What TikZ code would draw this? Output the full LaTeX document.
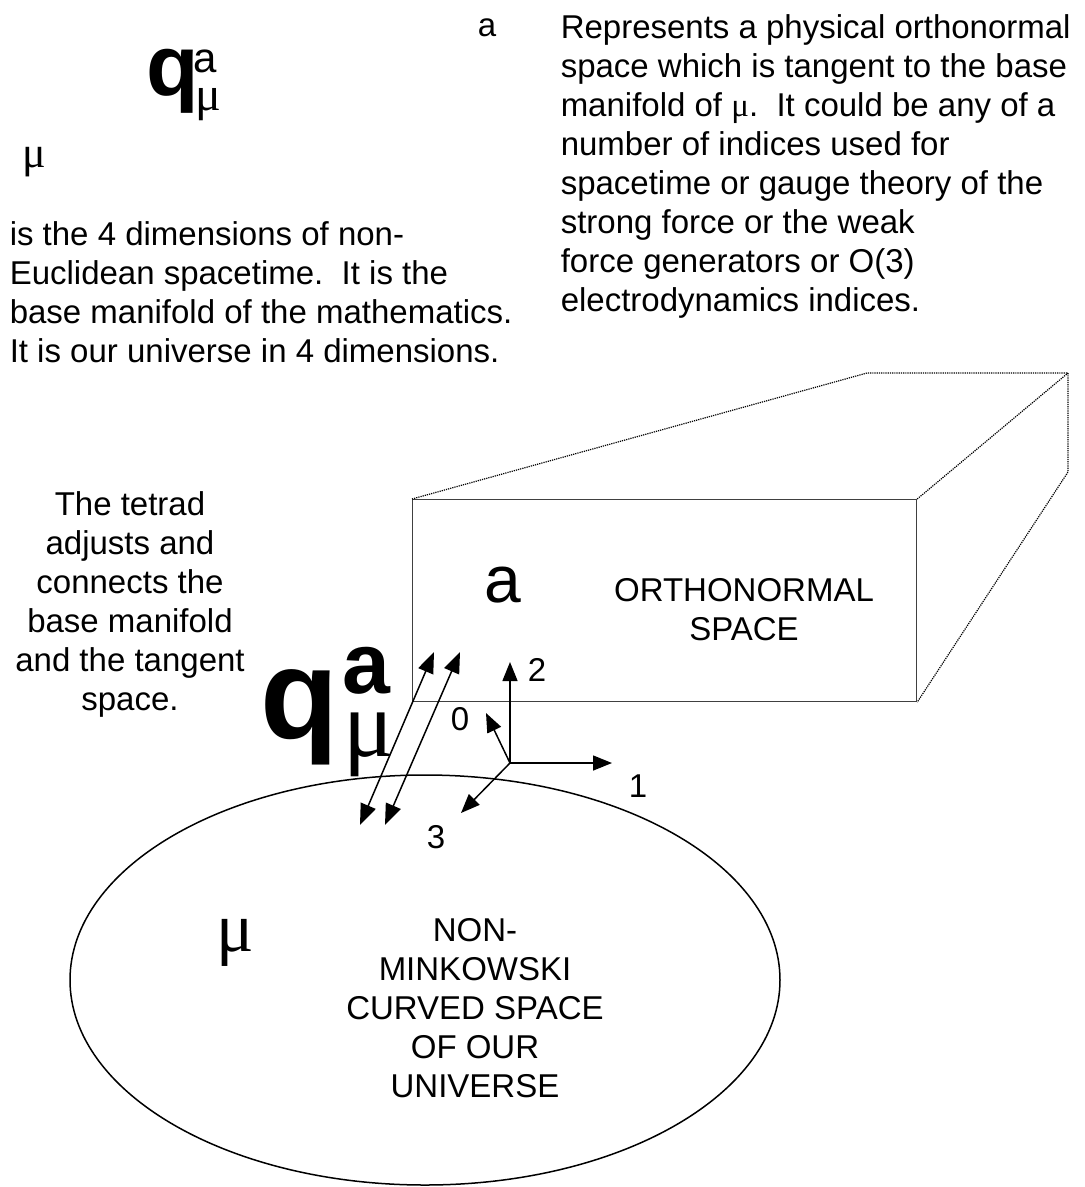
\documentclass[tikz,border=0pt]{standalone}
\usepackage{fontspec}
\setmainfont{Liberation Sans}
\newfontfamily\symbfont{Liberation Serif}
\usetikzlibrary{arrows.meta, shapes.geometric}
\tikzset{
  every picture/.style={line width=1.5pt},
  txt/.style={font=\fontsize{33}{39}\selectfont, inner sep=0pt},
  glyph/.style={inner sep=0pt, anchor=base west, font=\fontsize{#1}{#1}\selectfont},
  greek/.style={inner sep=0pt, anchor=base west, font=\symbfont\fontsize{#1}{#1}\selectfont},
  vec/.style={-{Triangle[length=19pt, width=15pt]}, line width=1.5pt},
  dvec/.style={{Triangle[length=21pt, width=16pt]}-{Triangle[length=21pt, width=16pt]}, line width=1.5pt},
  back/.style={densely dotted, line width=1.2pt},
}

\begin{document}
\begin{tikzpicture}[x=1pt, y=-1pt]
  \useasboundingbox (0,0) rectangle (1085,1187);

  % the symbol and what its indices mean
  \node[inner sep=0pt, anchor=base west] (qsmall) at (146,95)
    {{\fontsize{86}{86}\selectfont\bfseries q}\kern-5.5pt\rlap{\raisebox{23pt}{\fontsize{42}{42}\selectfont a}}\kern2pt\raisebox{-15pt}{\symbfont\fontsize{48}{48}\selectfont μ}};
  \node[greek=44] (mulabel) at (22,167) {μ};
  \node[glyph=33] (alabel) at (477,36) {a};
  \node[txt, align=left, anchor=north west] (mutext) at (9,221)
    {is the 4 dimensions of non-\\Euclidean spacetime.\ \ It is the\\base manifold of the mathematics.\\It is our universe in 4 dimensions.};
  \node[txt, align=left, anchor=north west] (atext) at (560,14)
    {Represents a physical orthonormal\\space which is tangent to the base\\manifold of {\symbfont μ}.\ \ It could be any of a\\number of indices used for\\spacetime or gauge theory of the\\strong force or the weak\\force generators or O(3)\\electrodynamics indices.};

  % tangent space
  \node[draw=black!75, line width=1.2pt, minimum width=504pt, minimum height=202pt, anchor=north west, inner sep=0pt] (front) at (412,499) {};
  \coordinate (backtl) at (867,373);
  \coordinate (backtr) at (1068,373);
  \coordinate (backbr) at (1068,472);
  \draw[back] (front.north west) -- (backtl) -- (backtr) -- (backbr) -- (front.south east);
  \draw[back] (front.north east) -- (backtr);
  \node[glyph=66] (aspace) at (484,602) {a};
  \node[txt, align=center, anchor=north] (ortho) at (744,578) {ORTHONORMAL\\SPACE};

  % base manifold
  \node[draw, ellipse, minimum width=710pt, minimum height=410pt, inner sep=0pt] (universe) at (425,980) {};
  \node[greek=70] (mubase) at (216,951) {μ};
  \node[txt, align=center, anchor=north] (curved) at (475,918) {NON-\\MINKOWSKI\\CURVED SPACE\\OF OUR\\UNIVERSE};

  % the tetrad
  \node[txt, align=center, anchor=north] (tetrad) at (130,491) {The tetrad\\adjusts and\\connects the\\base manifold\\and the tangent\\space.};
  \node[inner sep=0pt, anchor=base west] (qbig) at (260,738)
    {{\fontsize{128}{128}\selectfont\bfseries q}\kern3.8pt\rlap{\raisebox{45pt}{\fontsize{86}{86}\selectfont\bfseries a}}\kern1pt\raisebox{-18pt}{\symbfont\fontsize{95}{95}\selectfont μ}};
  \coordinate (lowa) at (360,825);
  \coordinate (upa) at (434,652);
  \coordinate (lowb) at (385,825);
  \coordinate (upb) at (460,652);
  \draw[dvec] (lowa) -- (upa);
  \draw[dvec] (lowb) -- (upb);

  % local frame
  \coordinate (o) at (510,763);
  \coordinate (ax0) at (486,713);
  \coordinate (ax1) at (612,763);
  \coordinate (ax2) at (510,662);
  \coordinate (ax3) at (461,813);
  \draw[vec] (o) -- (ax0);
  \draw[vec] (o) -- (ax1);
  \draw[vec] (o) -- (ax2);
  \draw[vec] (o) -- (ax3);
  \node[txt, anchor=base] (lbl0) at (460,730) {0};
  \node[txt, anchor=base] (lbl1) at (638,797) {1};
  \node[txt, anchor=base] (lbl2) at (537,681) {2};
  \node[txt, anchor=base] (lbl3) at (436,848) {3};
\end{tikzpicture}
\end{document}
